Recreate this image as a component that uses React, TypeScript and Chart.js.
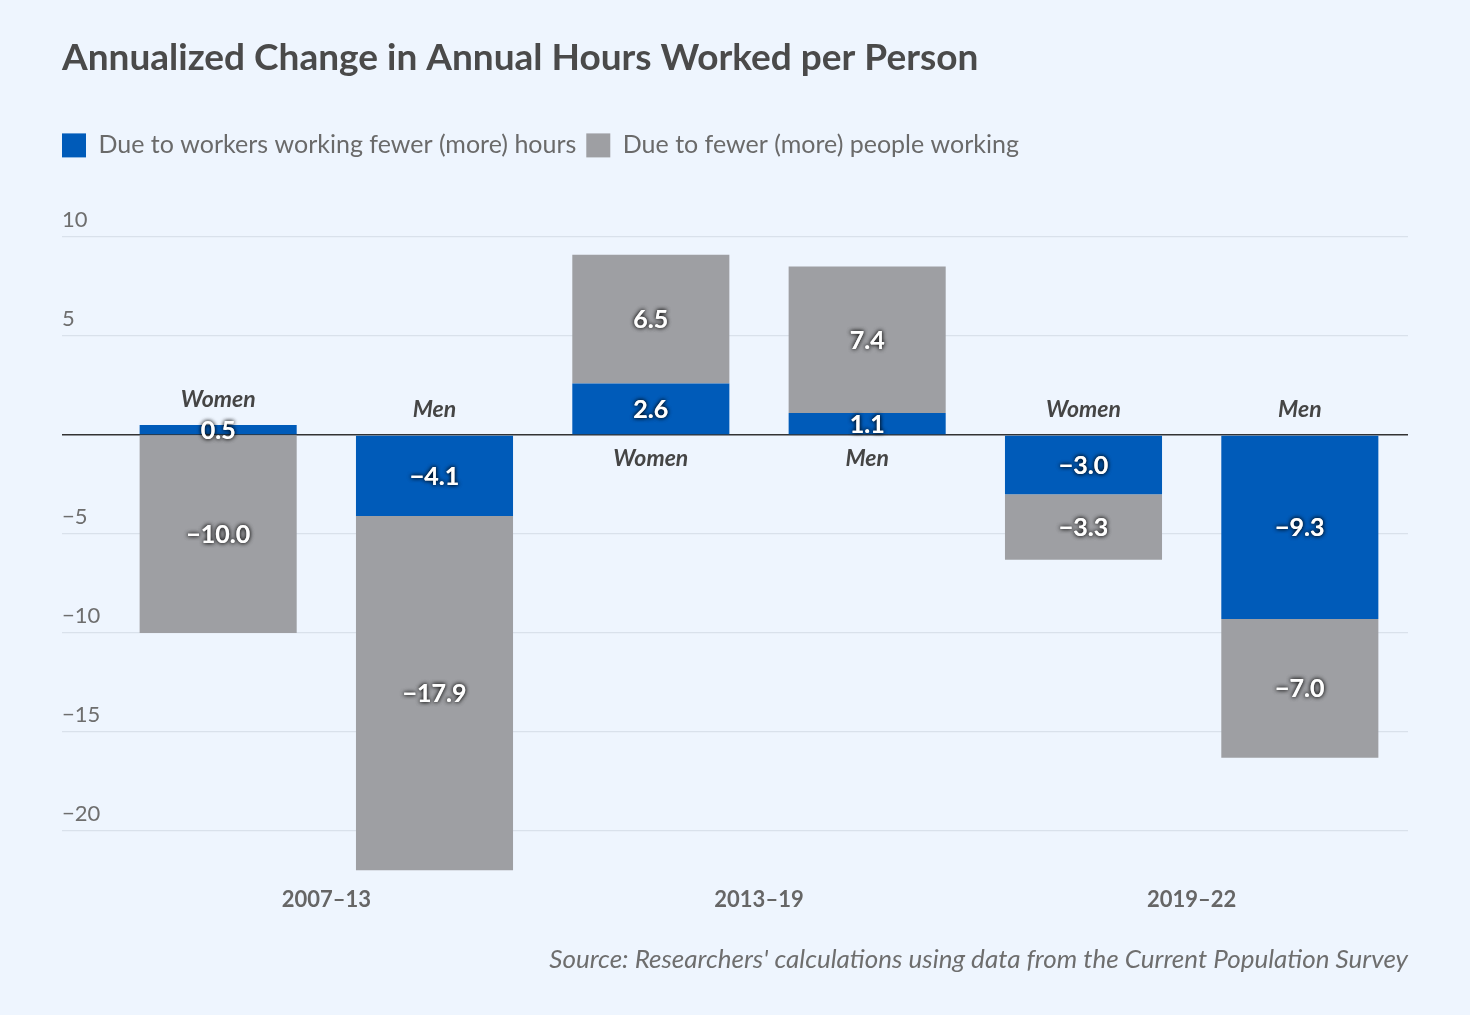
import React, { useEffect, useRef } from "react";
import { Chart, registerables } from "chart.js";

Chart.register(...registerables);

const bars = ["2007–13 Women", "2007–13 Men", "2013–19 Women", "2013–19 Men", "2019–22 Women", "2019–22 Men"];
const genders = ["Women", "Men", "Women", "Men", "Women", "Men"];
const periods = ["2007–13", "2013–19", "2019–22"];
const hoursValues = [0.5, -4.1, 2.6, 1.1, -3.0, -9.3];
const peopleValues = [-10.0, -17.9, 6.5, 7.4, -3.3, -7.0];
const yTicks = [-20, -15, -10, -5, 0, 5, 10];

const TITLE = "Annualized Change in Annual Hours Worked per Person";
const SOURCE = "Source: Researchers' calculations using data from the Current Population Survey";
const LEGEND_HOURS = "Due to workers working fewer (more) hours";
const LEGEND_PEOPLE = "Due to fewer (more) people working";

const FONT = "Lato, 'Noto Sans', sans-serif";
const BG = "#eef5fe";
const BLUE = "#005bb9";
const GRAY = "#9e9fa3";

const fmt = (v: number) => (v < 0 ? "−" : "") + Math.abs(v).toFixed(1);

const legendMargin = {
  id: "legendMargin",
  beforeInit(chart: any) {
    const lg = chart.legend;
    if (!lg || lg._patched) return;
    const orig = lg.fit;
    lg.fit = function () {
      orig.bind(lg)();
      lg.height += 69;
    };
    lg._patched = true;
  },
  afterLayout(chart: any) {
    if (chart.legend) chart.legend.left = 52;
  },
};

const labelPlugin = {
  id: "barLabels",
  afterDatasetsDraw(chart: any) {
    const ctx = chart.ctx;
    const y = chart.scales.y;
    ctx.save();
    ctx.textAlign = "center";
    ctx.textBaseline = "middle";
    ctx.font = `bold 25px ${FONT}`;
    chart.data.datasets.forEach((ds: any, di: number) => {
      const meta = chart.getDatasetMeta(di);
      meta.data.forEach((el: any, i: number) => {
        const v = ds.data[i];
        const cy = (el.y + el.base) / 2 + 1;
        ctx.shadowColor = "rgba(0,0,0,0.75)";
        ctx.shadowBlur = 4;
        ctx.shadowOffsetX = 0;
        ctx.shadowOffsetY = 0;
        ctx.fillStyle = "#ffffff";
        ctx.fillText(fmt(v), el.x, cy);
        ctx.fillText(fmt(v), el.x, cy);
      });
    });
    ctx.shadowColor = "transparent";
    ctx.shadowBlur = 0;
    ctx.font = `italic bold 23px ${FONT}`;
    ctx.fillStyle = "#454545";
    const meta0 = chart.getDatasetMeta(0);
    genders.forEach((g, i) => {
      const vals = [hoursValues[i], peopleValues[i]];
      const pos = vals.filter((v) => v > 0).reduce((a, b) => a + b, 0);
      const neg = vals.filter((v) => v < 0).reduce((a, b) => a + b, 0);
      const x = meta0.data[i].x;
      let ly;
      if (pos + neg < 0) ly = y.getPixelForValue(pos) - 25;
      else ly = y.getPixelForValue(neg) + 24;
      ctx.fillText(g, x, ly);
    });
    ctx.restore();
  },
};

export default function App() {
  const ref = useRef<HTMLCanvasElement | null>(null);
  useEffect(() => {
    if (!ref.current) return;
    const chart = new Chart(ref.current, {
      type: "bar",
      data: {
        labels: bars,
        datasets: [
          { label: LEGEND_HOURS, data: hoursValues, backgroundColor: BLUE, borderWidth: 0, barPercentage: 0.726, categoryPercentage: 1 },
          { label: LEGEND_PEOPLE, data: peopleValues, backgroundColor: GRAY, borderWidth: 0, barPercentage: 0.726, categoryPercentage: 1 },
        ],
      },
      options: {
        animation: false,
        responsive: false,
        devicePixelRatio: 1,
        layout: { padding: { left: 62, right: 62, top: 30, bottom: 30 } },
        plugins: {
          title: {
            display: true,
            text: TITLE,
            align: "start",
            color: "#4a4a4a",
            font: { family: FONT, size: 37, weight: "bold" },
            padding: { top: 5.5, bottom: 43 },
          },
          legend: {
            display: true,
            align: "start",
            labels: {
              boxWidth: 24,
              boxHeight: 24,
              color: "#6a6a6a",
              font: { family: FONT, size: 25 },
              padding: 10,
            },
          },
          subtitle: {
            display: true,
            position: "bottom",
            align: "end",
            text: SOURCE,
            color: "#6e6e6e",
            font: { family: FONT, size: 26, style: "italic" },
            padding: { top: 23.5, bottom: 9.4 },
          },
          tooltip: { enabled: false },
        },
        scales: {
          x: { display: false, stacked: true },
          x2: {
            type: "category",
            labels: periods,
            position: "bottom",
            offset: true,
            grid: { display: false },
            border: { display: false },
            ticks: { color: "#666666", font: { family: FONT, size: 22, weight: "bold" }, padding: 8, maxRotation: 0 },
          },
          y: {
            stacked: true,
            min: -22,
            max: 10,
            afterBuildTicks: (s: any) => {
              s.ticks = yTicks.map((v) => ({ value: v }));
            },
            afterFit: (s: any) => {
              s.width = 48;
            },
            border: { display: false },
            grid: {
              color: (c: any) => (c.tick && c.tick.value === 0 ? "#333333" : "#d9e1eb"),
              lineWidth: (c: any) => (c.tick && c.tick.value === 0 ? 1.5 : 1.2),
              drawTicks: true,
              tickLength: 48,
            },
            ticks: {
              color: "#6e6e6e",
              font: { family: FONT, size: 22 },
              crossAlign: "far",
              padding: 0,
              labelOffset: -17,
              callback: (v: any) => (v === 0 ? "" : (v < 0 ? "−" : "") + Math.abs(v)),
            },
          },
        },
      } as any,
      plugins: [legendMargin, labelPlugin],
    });
    return () => chart.destroy();
  }, []);
  return (
    <div style={{ position: "fixed", left: 0, top: 0, width: 1470, height: 1015, background: BG }}>
      <canvas ref={ref} width={1470} height={1015} style={{ display: "block" }} />
    </div>
  );
}
